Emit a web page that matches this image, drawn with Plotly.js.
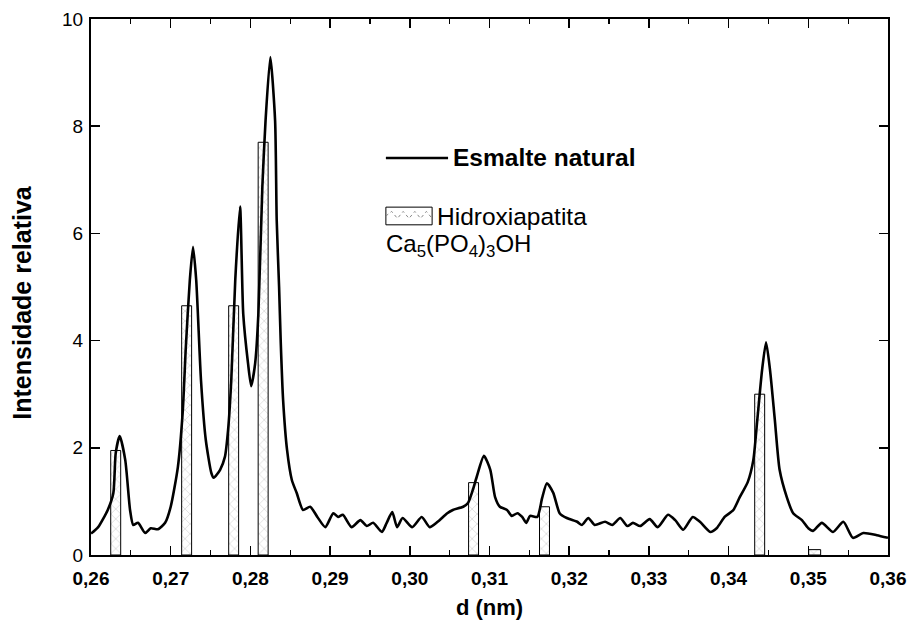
<!DOCTYPE html>
<html>
<head>
<meta charset="utf-8">
<script src="https://cdn.plot.ly/plotly-3.0.1.min.js"></script>
<style>html,body{margin:0;padding:0;background:#fff;}#chart{width:914px;height:631px;}</style>
</head>
<body>
<div id="chart"></div>
<script>
// Esmalte natural (measured curve)
const curveD = [0.2600,0.2609,0.2621,0.2628,0.2631,0.2636,0.2643,0.2649,0.2653,0.2659,0.2668,0.2675,0.2684,0.2693,0.2700,0.2709,0.2715,0.2719,0.2724,0.2728,0.2732,0.2738,0.2744,0.2751,0.2754,0.2762,0.2768,0.2772,0.2776,0.2781,0.2787,0.2791,0.2797,0.2801,0.2806,0.2810,0.2815,0.2819,0.2825,0.2831,0.2833,0.2836,0.2838,0.2841,0.2846,0.2852,0.2858,0.2866,0.2875,0.2884,0.2894,0.2904,0.2910,0.2916,0.2927,0.2938,0.2946,0.2954,0.2965,0.2971,0.2978,0.2984,0.2991,0.3003,0.3015,0.3025,0.3035,0.3047,0.3054,0.3067,0.3073,0.3079,0.3084,0.3093,0.3101,0.3107,0.3113,0.3122,0.3128,0.3135,0.3141,0.3146,0.3151,0.3160,0.3166,0.3172,0.3180,0.3188,0.3197,0.3210,0.3216,0.3224,0.3232,0.3245,0.3254,0.3264,0.3273,0.3280,0.3289,0.3301,0.3311,0.3324,0.3333,0.3343,0.3355,0.3364,0.3377,0.3385,0.3395,0.3406,0.3414,0.3424,0.3431,0.3436,0.3442,0.3447,0.3452,0.3458,0.3464,0.3473,0.3481,0.3492,0.3500,0.3506,0.3517,0.3531,0.3544,0.3556,0.3569,0.3586,0.3600];
const curveI = [0.40,0.52,0.84,1.15,1.90,2.22,1.77,0.84,0.56,0.60,0.41,0.50,0.48,0.60,0.90,1.64,2.65,3.88,5.13,5.75,5.13,3.26,2.15,1.53,1.44,1.59,1.83,2.33,3.26,5.13,6.50,4.50,3.58,3.15,3.58,4.50,6.87,8.10,9.29,8.10,6.25,5.00,4.00,2.90,1.96,1.40,1.16,0.84,0.90,0.71,0.52,0.78,0.71,0.75,0.52,0.65,0.54,0.60,0.43,0.60,0.80,0.52,0.69,0.52,0.71,0.52,0.62,0.78,0.84,0.90,0.97,1.21,1.46,1.85,1.59,1.08,0.90,0.84,0.73,0.78,0.71,0.60,0.73,0.71,1.06,1.34,1.16,0.78,0.69,0.62,0.56,0.69,0.56,0.62,0.56,0.69,0.54,0.60,0.54,0.67,0.52,0.75,0.65,0.47,0.71,0.62,0.43,0.50,0.71,0.84,1.08,1.36,1.77,2.52,3.45,3.97,3.45,2.52,1.59,1.08,0.78,0.65,0.50,0.45,0.60,0.43,0.62,0.32,0.41,0.37,0.32];

// Hidroxiapatita reference lines
const hapD = [0.2631,0.2720,0.2779,0.2816,0.3080,0.3169,0.3439,0.3508];
const hapI = [1.95,4.65,4.65,7.70,1.35,0.90,3.00,0.10];
const hapW = [0.00125,0.00125,0.00125,0.00125,0.00125,0.00125,0.00125,0.0015];

const xTicks = [0.26,0.27,0.28,0.29,0.30,0.31,0.32,0.33,0.34,0.35,0.36];
const xTickText = ['0,26','0,27','0,28','0,29','0,30','0,31','0,32','0,33','0,34','0,35','0,36'];
const yTicks = [0,2,4,6,8,10];

const FONT = 'Liberation Sans, Arial, sans-serif';

const traces = [
  {
    type: 'bar', x: hapD, y: hapI, width: hapW,
    name: 'Hidroxiapatita', showlegend: false,
    marker: {color: '#ffffff', line: {color: '#000', width: 1},
      pattern: {shape: 'x', size: 7, solidity: 0.12, fgcolor: '#777', bgcolor: '#ffffff', fillmode: 'overlay'}},
    hoverinfo: 'x+y'
  },
  {
    type: 'scatter', mode: 'lines', x: curveD, y: curveI,
    name: 'Esmalte natural', showlegend: false,
    line: {color: '#000', width: 2.6, shape: 'spline', smoothing: 0.6}
  }
];

// legend drawn in paper coordinates
const lx0 = 0.370, lx1 = 0.448, ly = 0.7407;
const bx0 = 0.370, bx1 = 0.428, by0 = 0.616, by1 = 0.649;
let zig = 'M ' + bx0 + ',' + (by0 + by1) / 2;
for (let i = 1; i <= 8; i++) {
  const xx = bx0 + (bx1 - bx0) * i / 8;
  const yy = (i % 2) ? by1 - 0.008 : by0 + 0.012;
  zig += ' L ' + xx.toFixed(4) + ',' + yy.toFixed(4);
}

const layout = {
  width: 914, height: 631,
  margin: {l: 91, r: 26, t: 19, b: 76},
  paper_bgcolor: '#fff', plot_bgcolor: '#fff',
  separators: ', ',
  font: {family: FONT, color: '#000', size: 17},
  showlegend: false,
  bargap: 0,
  xaxis: {
    range: [0.26, 0.36], tickvals: xTicks, ticktext: xTickText,
    ticks: 'inside', ticklen: 9, tickwidth: 1.5, tickcolor: '#000',
    showline: true, linecolor: '#000', linewidth: 2, mirror: 'ticks',
    showgrid: false, zeroline: false, ticklabelstandoff: 5,
    tickfont: {family: FONT, size: 19, color: '#000', weight: 'bold'},
    minor: {dtick: 0.005, tick0: 0.265, ticks: 'inside', ticklen: 5, tickwidth: 1.2, tickcolor: '#000', showgrid: false},
    title: {text: '<b>d (nm)</b>', font: {family: FONT, size: 22, color: '#000'}, standoff: 12}
  },
  yaxis: {
    range: [0, 10], tickvals: yTicks,
    ticks: 'inside', ticklen: 9, tickwidth: 1.5, tickcolor: '#000',
    showline: true, linecolor: '#000', linewidth: 2, mirror: 'ticks',
    showgrid: false, zeroline: false, ticklabelstandoff: 2,
    tickfont: {family: FONT, size: 19, color: '#000'}
  },
  shapes: [
    {type: 'line', xref: 'paper', yref: 'paper', x0: lx0, x1: lx1, y0: ly, y1: ly, line: {color: '#000', width: 2.6}},
    {type: 'rect', xref: 'paper', yref: 'paper', x0: bx0, x1: bx1, y0: by0, y1: by1, fillcolor: '#fff', line: {color: '#000', width: 1}},
    {type: 'path', xref: 'paper', yref: 'paper', path: zig, line: {color: '#888', width: 1, dash: 'dot'}}
  ],
  annotations: [
    {xref: 'paper', yref: 'paper', x: -0.087, y: 0.472, xanchor: 'center', yanchor: 'middle', showarrow: false, textangle: -90,
     text: '<b>Intensidade relativa</b>', font: {family: FONT, size: 25, color: '#000'}},
    {xref: 'paper', yref: 'paper', x: 0.452, y: ly, xanchor: 'left', yanchor: 'middle', showarrow: false,
     text: '<b>Esmalte natural</b>', font: {family: FONT, size: 24.5, color: '#000'}},
    {xref: 'paper', yref: 'paper', x: 0.432, y: 0.632, xanchor: 'left', yanchor: 'middle', showarrow: false,
     text: 'Hidroxiapatita', font: {family: FONT, size: 24.5, color: '#000'}},
    {xref: 'paper', yref: 'paper', x: 0.368, y: 0.578, xanchor: 'left', yanchor: 'middle', showarrow: false,
     text: 'Ca<sub>5</sub>(PO<sub>4</sub>)<sub>3</sub>OH', font: {family: FONT, size: 24, color: '#000'}}
  ]
};

Plotly.newPlot('chart', traces, layout, {displayModeBar: false, staticPlot: true});
</script>
</body>
</html>
